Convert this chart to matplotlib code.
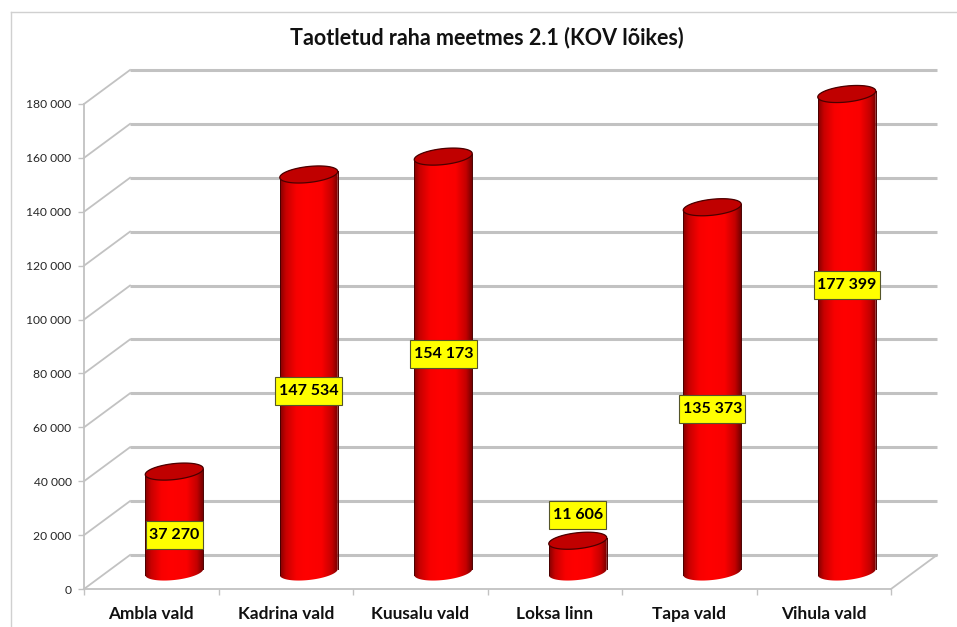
import numpy as np
import matplotlib
matplotlib.use("Agg")
import matplotlib.pyplot as plt
from matplotlib.colors import LinearSegmentedColormap
from matplotlib.patches import PathPatch
from matplotlib.path import Path

# -------------------------
# Data
# -------------------------
categories = ["Ambla vald", "Kadrina vald", "Kuusalu vald", "Loksa linn", "Tapa vald", "Vihula vald"]
values = [37270, 147534, 154173, 11606, 135373, 177399]
value_labels = ["37 270", "147 534", "154 173", "11 606", "135 373", "177 399"]
label_heights = [20100, 73500, 87300, 27500, 66900, 112900]
y_ticks = list(range(0, 180001, 20000))
y_tick_labels = ["0", "20 000", "40 000", "60 000", "80 000", "100 000", "120 000", "140 000", "160 000", "180 000"]
title = "Taotletud raha meetmes 2.1 (KOV lõikes)"

# -------------------------
# Layout (figure pixels)
# -------------------------
W, H = 957, 627
LEFT, RIGHT = 84, 891
BOTTOM, TOP = 589, 104
FONT = "Lato"
GRID = "#c2c2c2"

fig = plt.figure(figsize=(W / 100, H / 100), dpi=100, facecolor="white")
ax = fig.add_axes([LEFT / W, 1 - BOTTOM / H, (RIGHT - LEFT) / W, (BOTTOM - TOP) / H])
n = len(categories)
ax.set_xlim(0, n)
ax.set_ylim(0, 180000)
ax.patch.set_visible(False)

# data units per pixel, the 3D depth is given in pixels
UX = n / (RIGHT - LEFT)
UY = 180000 / (BOTTOM - TOP)
DX = 46 * UX
DY = 34 * UY

# -------------------------
# Walls
# -------------------------
for t in y_ticks:
    ax.plot([0, DX], [t, t + DY], color=GRID, lw=1.3, clip_on=False, zorder=1)
    ax.plot([DX, n + DX], [t + DY, t + DY], color=GRID, lw=2.2, clip_on=False, zorder=1,
            solid_capstyle="butt")
ax.plot([n, n + DX], [0, DY], color=GRID, lw=1.3, clip_on=False, zorder=1)

for side in ["top", "right"]:
    ax.spines[side].set_visible(False)
for side in ["left", "bottom"]:
    ax.spines[side].set_color(GRID)
    ax.spines[side].set_linewidth(1.3)

ax.set_yticks(y_ticks)
ax.set_yticklabels(y_tick_labels, fontsize=8.7, family=FONT, color="#262626")
ax.set_xticks(range(n + 1))
ax.set_xticklabels([""] * (n + 1))
ax.tick_params(axis="both", color=GRID, length=4, width=1)
ax.tick_params(axis="y", pad=5)

for i, cat in enumerate(categories):
    ax.annotate(cat, (i + 0.5, 0), xytext=(0, -18), textcoords="offset points",
                ha="center", va="center", fontsize=12.4, fontweight="bold", family=FONT, color="#111111")


# -------------------------
# Cylinders
# -------------------------
def label_box(x0, y0, width, height, mutation_size):
    # yellow box, taller padding than wide
    px = 0.22 * mutation_size
    py = 0.44 * mutation_size
    x1, y1 = x0 + width + px, y0 + height + py
    x0, y0 = x0 - px, y0 - py
    return Path([(x0, y0), (x1, y0), (x1, y1), (x0, y1), (x0, y0)], closed=True)


body_cmap = LinearSegmentedColormap.from_list(
    "body", [(0, "#840000"), (0.1, "#c80000"), (0.28, "#f80000"), (0.45, "#ff0000"),
             (0.72, "#fa0000"), (0.9, "#c40000"), (1, "#780000")])
shade = np.linspace(0, 1, 128).reshape(1, -1)

half_w = 29 * UX
cap_b = 8 * UY
tilt = 3 * UY
theta = np.linspace(0, 2 * np.pi, 121)


def ellipse(cx, cy, th=theta):
    return cx + half_w * np.cos(th), cy + cap_b * np.sin(th) + tilt * np.cos(th)


for i, val in enumerate(values):
    cx = i + 0.5 + DX / 2
    base = DY / 2

    # side wall, from the front half of the bottom ellipse up to the back half of the top one
    xb, yb = ellipse(cx, base, np.linspace(np.pi, 2 * np.pi, 61))
    xt, yt = ellipse(cx, base + val, np.linspace(0, np.pi, 61))
    wall = PathPatch(Path(np.column_stack([np.r_[xb, xt], np.r_[yb, yt]])), facecolor="none",
                     edgecolor="none", transform=ax.transData)
    ax.add_patch(wall)
    img = ax.imshow(shade, cmap=body_cmap, aspect="auto", zorder=3, interpolation="bilinear",
                    extent=[cx - half_w, cx + half_w, base - 2 * cap_b, base + val + 2 * cap_b])
    img.set_clip_box(fig.bbox)
    img.set_clip_path(wall)
    ax.plot([cx - half_w] * 2, [base - tilt, base + val - tilt], color="#4a0000", lw=0.7, zorder=4,
            clip_on=False)
    ax.plot([cx + half_w] * 2, [base + tilt, base + val + tilt], color="#4a0000", lw=0.7, zorder=4,
            clip_on=False)

    # top cap
    xc, yc = ellipse(cx, base + val)
    ax.fill(xc, yc, facecolor="#c00000", edgecolor="#4a0000", lw=0.9, zorder=5, clip_on=False)

    # value label
    ax.text(cx, label_heights[i], value_labels[i], ha="center", va="center", fontsize=11.5,
            fontweight="bold", family=FONT, color="black", zorder=7, clip_on=False,
            bbox=dict(boxstyle=label_box, facecolor="#ffff00", edgecolor="#55552a", lw=0.8))

ax.set_xlim(0, n)
ax.set_ylim(0, 180000)

# -------------------------
# Title
# -------------------------
fig.text(487 / W, 1 - 38 / H, title, ha="center", va="center", fontsize=15.5, fontweight="bold",
         family=FONT, color="#111111")

# thin frame of the slide
fig.add_artist(plt.Line2D([11 / W, 11 / W], [0, 1 - 12 / H], color="#d0d0d0", lw=1))
fig.add_artist(plt.Line2D([11 / W, 1], [1 - 12 / H, 1 - 12 / H], color="#d0d0d0", lw=1))

fig.savefig("out.png", dpi=100)
